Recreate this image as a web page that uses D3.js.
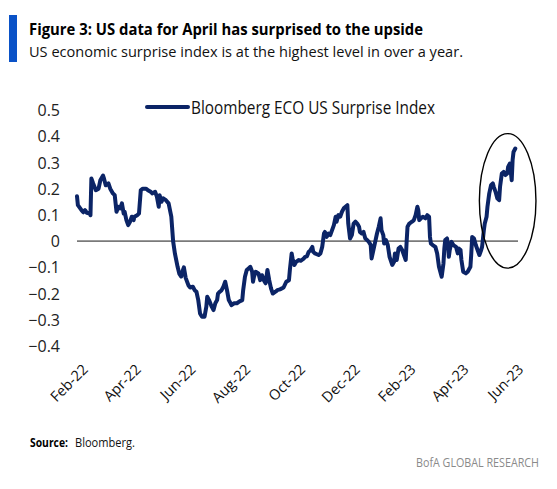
<!DOCTYPE html>
<html><head><meta charset="utf-8">
<script src="https://cdn.jsdelivr.net/npm/d3@7"></script>
<style>body{margin:0;background:#fff} svg{display:block}</style>
</head><body>
<svg id="c" width="557" height="489"></svg>
<script>
const titleText = "Figure 3: US data for April has surprised to the upside";
const subtitleText = "US economic surprise index is at the highest level in over a year.";
const seriesName = "Bloomberg ECO US Surprise Index";
const sourceLabel = "Source:";
const sourceText = "Bloomberg.";
const brandText = "BofA GLOBAL RESEARCH";

const yTicks = [0.5, 0.4, 0.3, 0.2, 0.1, 0, -0.1, -0.2, -0.3, -0.4];
const xTickDates = ["2022-02-01","2022-04-01","2022-06-01","2022-08-01","2022-10-01","2022-12-01","2023-02-01","2023-04-01","2023-06-01"];
const xDomain = ["2022-01-31", "2023-06-06"];

const dates = [
"2022-01-31","2022-02-01","2022-02-05","2022-02-07","2022-02-09","2022-02-11","2022-02-14","2022-02-15","2022-02-16","2022-02-18",
"2022-02-21","2022-02-24","2022-02-26","2022-03-01","2022-03-02","2022-03-04","2022-03-07","2022-03-09","2022-03-12","2022-03-14",
"2022-03-16","2022-03-18","2022-03-20","2022-03-22","2022-03-24","2022-03-25","2022-03-27","2022-03-29","2022-03-31","2022-04-02",
"2022-04-04","2022-04-05","2022-04-08","2022-04-10","2022-04-12","2022-04-14","2022-04-18","2022-04-20","2022-04-23","2022-04-25",
"2022-04-28","2022-04-30","2022-05-02","2022-05-03","2022-05-05","2022-05-07","2022-05-10","2022-05-13","2022-05-16","2022-05-18",
"2022-05-20","2022-05-23","2022-05-25","2022-05-27","2022-05-29","2022-05-30","2022-06-01","2022-06-04","2022-06-06","2022-06-09",
"2022-06-11","2022-06-13","2022-06-15","2022-06-17","2022-06-19","2022-06-22","2022-06-24","2022-06-25","2022-06-27","2022-06-30",
"2022-07-02","2022-07-04","2022-07-06","2022-07-07","2022-07-09","2022-07-11","2022-07-13","2022-07-15","2022-07-17","2022-07-19",
"2022-07-21","2022-07-22","2022-07-25","2022-07-28","2022-07-31","2022-08-03","2022-08-04","2022-08-06","2022-08-08","2022-08-10",
"2022-08-12","2022-08-14","2022-08-15","2022-08-16","2022-08-18","2022-08-21","2022-08-23","2022-08-25","2022-08-27","2022-08-29",
"2022-08-31","2022-09-02","2022-09-04","2022-09-06","2022-09-09","2022-09-11","2022-09-14","2022-09-18","2022-09-21","2022-09-24",
"2022-09-25","2022-09-27","2022-09-28","2022-09-30","2022-10-02","2022-10-05","2022-10-07","2022-10-10","2022-10-12","2022-10-14",
"2022-10-16","2022-10-18","2022-10-20","2022-10-21","2022-10-23","2022-10-25","2022-10-27","2022-10-29","2022-10-31","2022-11-02",
"2022-11-03","2022-11-05","2022-11-07","2022-11-09","2022-11-11","2022-11-13","2022-11-15","2022-11-16","2022-11-18","2022-11-20",
"2022-11-22","2022-11-24","2022-11-26","2022-11-28","2022-11-29","2022-12-01","2022-12-03","2022-12-05","2022-12-07","2022-12-09",
"2022-12-11","2022-12-12","2022-12-14","2022-12-16","2022-12-18","2022-12-20","2022-12-22","2022-12-24","2022-12-25","2022-12-27",
"2022-12-29","2022-12-31","2023-01-02","2023-01-04","2023-01-05","2023-01-07","2023-01-08","2023-01-10","2023-01-12","2023-01-14",
"2023-01-17","2023-01-19","2023-01-20","2023-01-22","2023-01-24","2023-01-26","2023-01-28","2023-01-30","2023-02-01","2023-02-02",
"2023-02-03","2023-02-05","2023-02-08","2023-02-10","2023-02-12","2023-02-14","2023-02-15","2023-02-16","2023-02-18","2023-02-20",
"2023-02-23","2023-02-25","2023-02-27","2023-02-28","2023-03-01","2023-03-03","2023-03-06","2023-03-08","2023-03-10","2023-03-12",
"2023-03-13","2023-03-15","2023-03-16","2023-03-17","2023-03-19","2023-03-20","2023-03-21","2023-03-22","2023-03-24","2023-03-26",
"2023-03-29","2023-03-31","2023-04-01","2023-04-03","2023-04-04","2023-04-06","2023-04-09","2023-04-11","2023-04-14","2023-04-15",
"2023-04-16","2023-04-18","2023-04-20","2023-04-22","2023-04-24","2023-04-26","2023-04-27","2023-04-29","2023-04-30","2023-05-02",
"2023-05-03","2023-05-05","2023-05-07","2023-05-09","2023-05-10","2023-05-12","2023-05-14","2023-05-16","2023-05-17","2023-05-19",
"2023-05-21","2023-05-23","2023-05-25","2023-05-26","2023-05-28","2023-05-30","2023-05-31","2023-06-01","2023-06-03"
];
const values = [
0.171,0.137,0.118,0.110,0.118,0.108,0.105,0.099,0.239,0.220,
0.194,0.200,0.232,0.250,0.239,0.213,0.220,0.200,0.182,0.175,
0.112,0.131,0.125,0.144,0.105,0.112,0.080,0.061,0.074,0.093,
0.080,0.093,0.099,0.105,0.194,0.200,0.200,0.194,0.188,0.182,
0.188,0.169,0.131,0.175,0.150,0.163,0.156,0.144,0.093,0.000,
-0.047,-0.098,-0.125,-0.135,-0.110,-0.100,-0.140,-0.168,-0.177,-0.174,
-0.187,-0.193,-0.225,-0.276,-0.288,-0.288,-0.250,-0.212,-0.225,-0.250,
-0.263,-0.237,-0.225,-0.200,-0.193,-0.187,-0.174,-0.155,-0.187,-0.225,
-0.237,-0.244,-0.237,-0.237,-0.230,-0.225,-0.187,-0.136,-0.110,-0.104,
-0.098,-0.117,-0.155,-0.136,-0.117,-0.123,-0.149,-0.130,-0.149,-0.161,
-0.110,-0.149,-0.180,-0.200,-0.193,-0.187,-0.184,-0.177,-0.155,-0.149,
-0.110,-0.047,-0.066,-0.091,-0.079,-0.072,-0.075,-0.068,-0.060,-0.058,
-0.041,-0.034,-0.022,-0.041,-0.047,-0.050,-0.053,-0.047,-0.022,0.029,
0.035,0.016,0.029,0.023,0.042,0.061,0.093,0.074,0.099,0.093,
0.112,0.125,0.131,0.137,0.067,0.010,0.023,0.067,0.074,0.067,
0.055,0.035,0.029,0.035,0.010,0.004,-0.003,-0.015,-0.066,-0.034,
-0.003,0.029,0.055,0.087,0.042,0.023,-0.009,0.004,-0.015,-0.060,
-0.091,-0.079,-0.047,-0.072,-0.028,-0.022,-0.034,-0.053,-0.072,-0.003,
0.055,0.067,0.074,0.080,0.099,0.131,0.118,0.080,0.087,0.093,
0.087,0.099,0.093,0.016,-0.009,-0.015,-0.022,-0.047,-0.098,-0.123,
-0.136,-0.085,-0.028,0.004,0.010,-0.015,-0.060,-0.034,-0.003,-0.015,
-0.022,-0.047,-0.028,-0.034,-0.072,-0.117,-0.123,-0.117,-0.098,-0.047,
0.016,0.010,-0.015,-0.034,-0.053,-0.034,-0.022,0.042,0.067,0.093,
0.131,0.182,0.213,0.220,0.207,0.188,0.163,0.156,0.207,0.258,
0.264,0.252,0.258,0.283,0.296,0.232,0.309,0.340,0.353
];
// annotation ellipse bounds (date / value space)
const highlightDates = ["2023-04-24", "2023-06-26"];
const highlightValues = [-0.103, 0.41];

const parse = d3.timeParse("%Y-%m-%d");
const data = dates.map((d, i) => ({date: parse(d), value: values[i]}));

const svg = d3.select("#c");
const FONT = "'Open Sans', 'Noto Sans', sans-serif";

// Header
svg.append("rect").attr("x", 9).attr("y", 15).attr("width", 8).attr("height", 47).attr("fill", "#0a52c7");
svg.append("text").attr("x", 29).attr("y", 35).text(titleText)
  .attr("font-family", FONT).attr("font-weight", 700).attr("font-size", 15.5).attr("fill", "#000")
  .attr("textLength", 394).attr("lengthAdjust", "spacingAndGlyphs");
svg.append("text").attr("x", 29).attr("y", 57).text(subtitleText)
  .attr("font-family", FONT).attr("font-size", 14.5).attr("fill", "#111")
  .attr("textLength", 434).attr("lengthAdjust", "spacingAndGlyphs");

// Scales
const x = d3.scaleTime().domain(xDomain.map(parse)).range([77, 518]);
const y = d3.scaleLinear().domain([-0.4, 0.5]).range([346, 110]);

// Y axis labels
const yAxis = d3.axisLeft(y).tickValues(yTicks).tickSize(0).tickPadding(0)
  .tickFormat(d => d === 0 ? "0" : d3.format(".1f")(d));
const yg = svg.append("g").attr("transform", "translate(60,0)").call(yAxis);
yg.select(".domain").remove();
yg.selectAll("text").attr("font-family", FONT).attr("font-size", 16).attr("fill", "#222").attr("dy", "0.35em");

// X axis labels
const xAxis = d3.axisBottom(x).tickValues(xTickDates.map(parse)).tickSize(0).tickPadding(0)
  .tickFormat(d3.timeFormat("%b-%y"));
const xg = svg.append("g").attr("transform", "translate(3,363)").call(xAxis);
xg.select(".domain").remove();
xg.selectAll("text")
  .attr("font-family", FONT).attr("font-size", 14.5).attr("fill", "#111")
  .attr("text-anchor", "end").attr("y", 0).attr("dy", "0.72em").attr("dx", 0)
  .attr("transform", "rotate(-45)");

// Zero line
svg.append("line")
  .attr("x1", x.range()[0]).attr("x2", x.range()[1])
  .attr("y1", y(0)).attr("y2", y(0))
  .attr("stroke", "#7a7a7a").attr("stroke-width", 1.8);

// Series
const line = d3.line().x(d => x(d.date)).y(d => y(d.value));
svg.append("path").datum(data).attr("d", line)
  .attr("fill", "none").attr("stroke", "#0b2466").attr("stroke-width", 4)
  .attr("stroke-linejoin", "round").attr("stroke-linecap", "round");

// Highlight ellipse
const ex0 = x(parse(highlightDates[0])), ex1 = x(parse(highlightDates[1]));
const ey0 = y(highlightValues[1]), ey1 = y(highlightValues[0]);
svg.append("ellipse")
  .attr("cx", (ex0 + ex1) / 2).attr("cy", (ey0 + ey1) / 2)
  .attr("rx", (ex1 - ex0) / 2).attr("ry", (ey1 - ey0) / 2)
  .attr("fill", "none").attr("stroke", "#000").attr("stroke-width", 1.4);

// Legend
svg.append("line").attr("x1", 147).attr("x2", 188).attr("y1", 107).attr("y2", 107)
  .attr("stroke", "#0b2466").attr("stroke-width", 4).attr("stroke-linecap", "round");
svg.append("text").attr("x", 191).attr("y", 114).text(seriesName)
  .attr("font-family", FONT).attr("font-size", 17.5).attr("fill", "#111")
  .attr("textLength", 244).attr("lengthAdjust", "spacingAndGlyphs");

// Footer
svg.append("text").attr("x", 30).attr("y", 447).text(sourceLabel)
  .attr("font-family", FONT).attr("font-weight", 700).attr("font-size", 12).attr("fill", "#000")
  .attr("textLength", 38).attr("lengthAdjust", "spacingAndGlyphs");
svg.append("text").attr("x", 75).attr("y", 447).text(sourceText)
  .attr("font-family", FONT).attr("font-size", 12).attr("fill", "#111")
  .attr("textLength", 60).attr("lengthAdjust", "spacingAndGlyphs");
svg.append("text").attr("transform", "translate(416,467) scale(0.86,1)").text(brandText)
  .attr("font-family", FONT).attr("font-size", 12.5).attr("fill", "#8a8a8a");
</script></body></html>
